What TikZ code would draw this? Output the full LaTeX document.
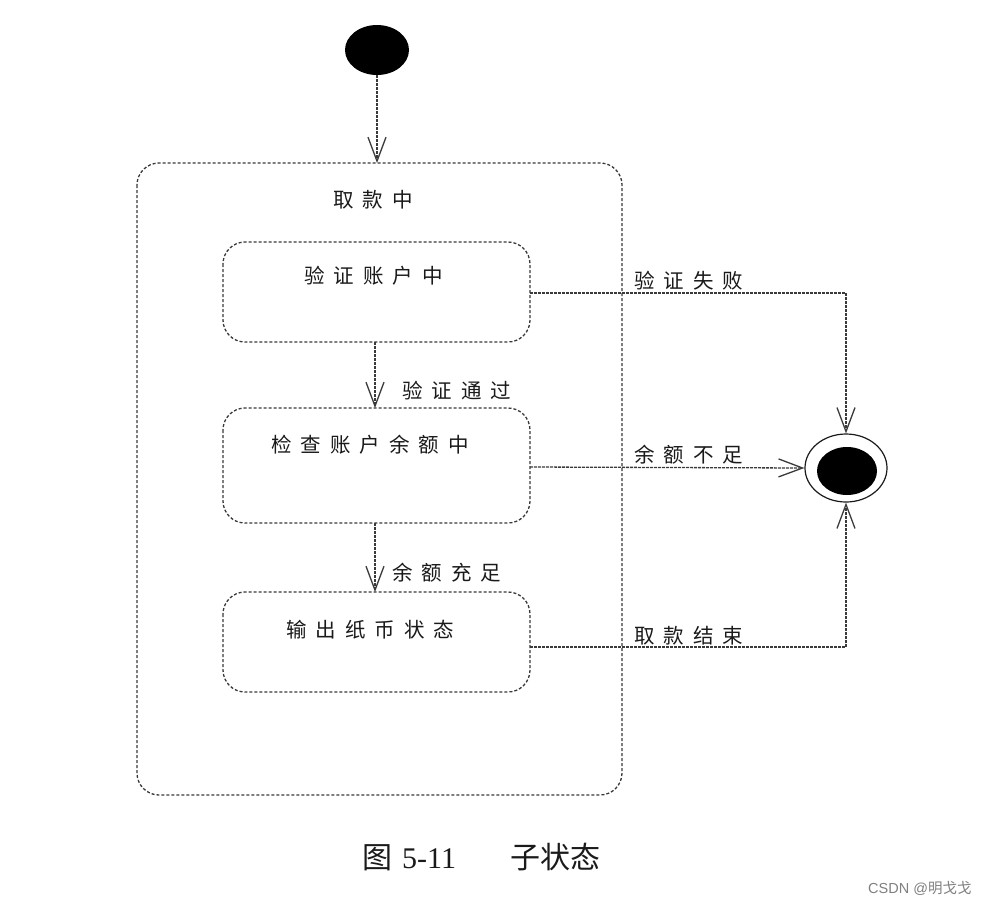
\documentclass[tikz,border=0pt]{standalone}
\usepackage{fontspec}
\newfontfamily\cjk[LetterSpace=44]{Noto Sans CJK SC}
\newfontfamily\cjkcap{Noto Sans CJK SC}
\newfontfamily\capserif{Liberation Serif}
\newfontfamily\wm{Liberation Sans}
\newfontfamily\wmcjk{Noto Sans CJK SC}
\usetikzlibrary{arrows.meta,shapes.geometric}
\definecolor{lc}{HTML}{3A3A3A}
\definecolor{tc}{HTML}{1A1A1A}
\tikzset{
  ln/.style={draw=lc, densely dashed, line width=1.3pt},
  statebox/.style={ln, rounded corners=22pt},
  lbl/.style={text=tc, font=\cjk\fontsize{20.5}{20.5}\selectfont, inner sep=0pt},
  tr/.style={ln, -{Straight Barb[length=24pt,width=18pt,line width=1.3pt]}, dash pattern=on 3pt off 1pt},
}
\begin{document}
\begin{tikzpicture}[x=1pt,y=-1pt]
\useasboundingbox[fill=white] (0,0) rectangle (997,906);
% initial
\node[ellipse, fill=black, minimum width=64pt, minimum height=50pt, inner sep=0pt] (init) at (377,50) {};
% composite
\draw[statebox] (137,163) rectangle (622,795);
\coordinate (comptop) at (377,163);
\node[lbl, anchor=west] (complbl) at (333,200) {取款中};
% states
\draw[statebox] (223,242) rectangle (530,342);
\draw[statebox] (223,408) rectangle (530,523);
\draw[statebox] (223,592) rectangle (530,692);
\node[lbl, anchor=west] (s1) at (304,276) {验证账户中};
\node[lbl, anchor=west] (s2) at (271,445) {检查账户余额中};
\node[lbl, anchor=west] (s3) at (286,630) {输出纸币状态};
\coordinate (s1b) at (375,342);
\coordinate (s2t) at (375,408);
\coordinate (s2b) at (375,523);
\coordinate (s3t) at (375,592);
\coordinate (s1r) at (530,293);
\coordinate (s2r) at (530,467);
\coordinate (s3r) at (530,647);
% final
\node[ellipse, draw=tc, line width=1.2pt, minimum width=82pt, minimum height=68pt, inner sep=0pt] (fin) at (846,468) {};
\node[ellipse, fill=black, minimum width=60pt, minimum height=48pt, inner sep=0pt] (fininner) at (847,471) {};
% transitions
\draw[tr] (init.south) -- (comptop);
\draw[tr] (s1b) -- (s2t);
\draw[tr] (s2b) -- (s3t);
\draw[tr] (s1r) -| (fin.north);
\draw[tr] (s2r) -- (fin.west);
\draw[tr] (s3r) -| (fin.south);
% labels
\node[lbl, anchor=west] (l1) at (402,391) {验证通过};
\node[lbl, anchor=west] (l2) at (392,573) {余额充足};
\node[lbl, anchor=west] (l3) at (634,281) {验证失败};
\node[lbl, anchor=west] (l4) at (634,455) {余额不足};
\node[lbl, anchor=west] (l5) at (634,636) {取款结束};
% caption
\node[text=tc, inner sep=0pt, anchor=west] (cap) at (362,857) {\cjkcap\fontsize{30}{30}\selectfont 图\hspace{10pt}{\capserif 5-11}\hspace{54pt}子状态};
\node[text=gray, inner sep=0pt, anchor=west] (wmk) at (868,888) {\fontsize{14.5}{14.5}\selectfont{\wm CSDN @}{\wmcjk 明戈戈}};
\end{tikzpicture}
\end{document}
